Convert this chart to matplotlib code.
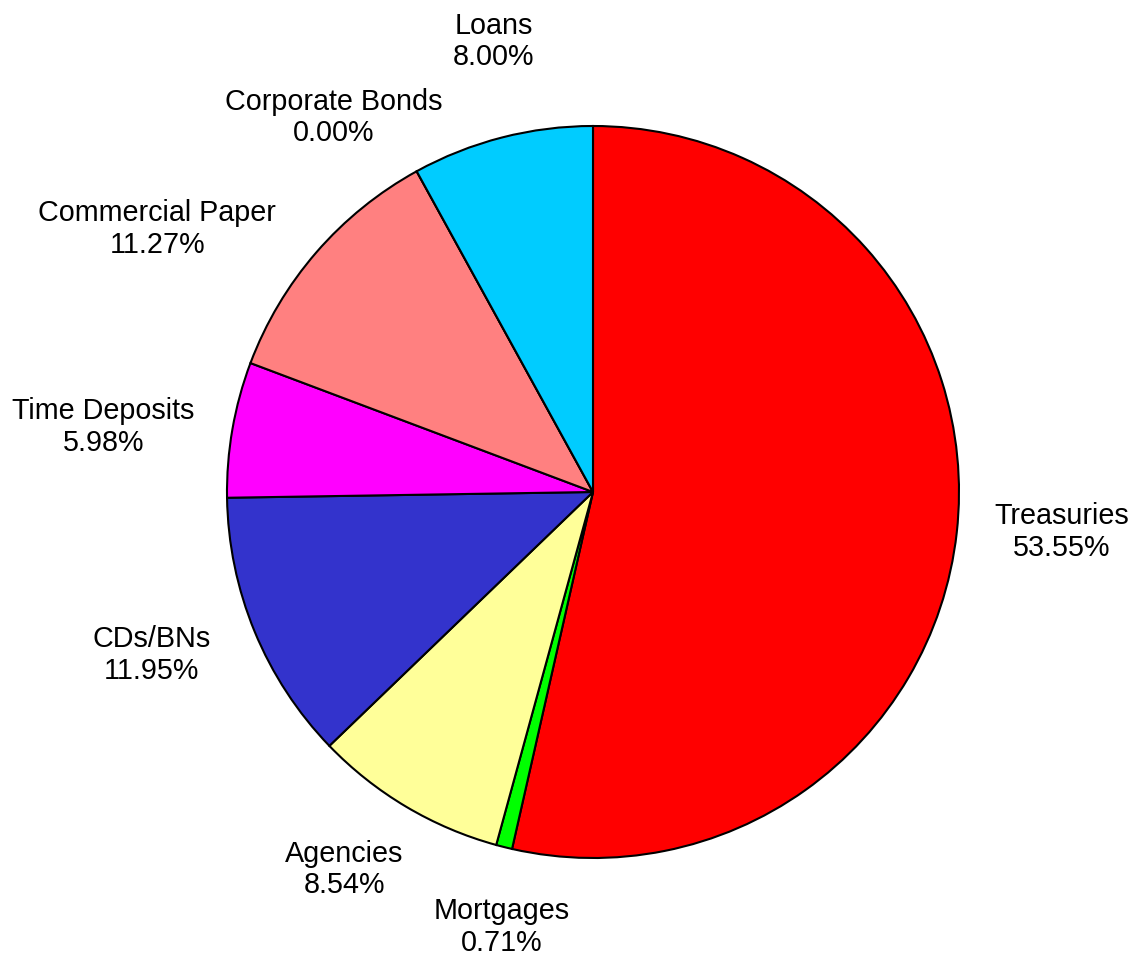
import numpy as np
import matplotlib
matplotlib.use("Agg")
import matplotlib.pyplot as plt

categories = ["Treasuries", "Mortgages", "Agencies", "CDs/BNs", "Time Deposits",
              "Commercial Paper", "Corporate Bonds", "Loans"]
values = [53.55, 0.71, 8.54, 11.95, 5.98, 11.27, 0.00, 8.00]
colors = ["#FF0000", "#00FF00", "#FFFF99", "#3333CC", "#FF00FF",
          "#FF8080", "#FFFFFF", "#00CCFF"]

W, H = 1138, 958
cx, cy, R = 593, 492, 366
plt.rcParams['font.family'] = ['Liberation Sans', 'DejaVu Sans']

fig = plt.figure(figsize=(W / 100, H / 100), dpi=100)
ax = fig.add_axes([0, 0, 1, 1])
ax.set_xlim(-cx, W - cx)
ax.set_ylim(-(H - cy), cy)
ax.set_aspect('equal')
ax.axis('off')

wedges, _ = ax.pie(values, colors=colors, startangle=90, counterclock=False,
                   radius=R, center=(0, 0),
                   wedgeprops=dict(edgecolor='black', linewidth=1.5))
ax.set_xlim(-cx, W - cx)
ax.set_ylim(-(H - cy), cy)

# labels sit a fixed gap outside the circle, with small layout nudges (pixels)
gap = 30
nudge = {"Treasuries": (5, 12), "Loans": (9, 29), "Corporate Bonds": (-31, -41),
         "Commercial Paper": (-54, -68), "Time Deposits": (-6, -19),
         "CDs/BNs": (-14, 13), "Agencies": (-18, 11), "Mortgages": (16, -7)}
renderer = fig.canvas.get_renderer()
cum = 0.0
total = sum(values)
for name, v in zip(categories, values):
    mid = np.deg2rad(90 - 360 * (cum + v / 2) / total)
    cum += v
    t = ax.text(0, 0, f"{name}\n{v:.2f}%", ha='center', va='center',
                fontsize=20.7, linespacing=1.15)
    bb = t.get_window_extent(renderer)
    w, h = bb.width, bb.height
    ext = abs(np.cos(mid)) * w / 2 + abs(np.sin(mid)) * h / 2
    d = R + gap + ext
    dx, dy = nudge.get(name, (0, 0))
    t.set_position((d * np.cos(mid) + dx, d * np.sin(mid) + dy))

fig.savefig("out.png", dpi=100, facecolor='white')
